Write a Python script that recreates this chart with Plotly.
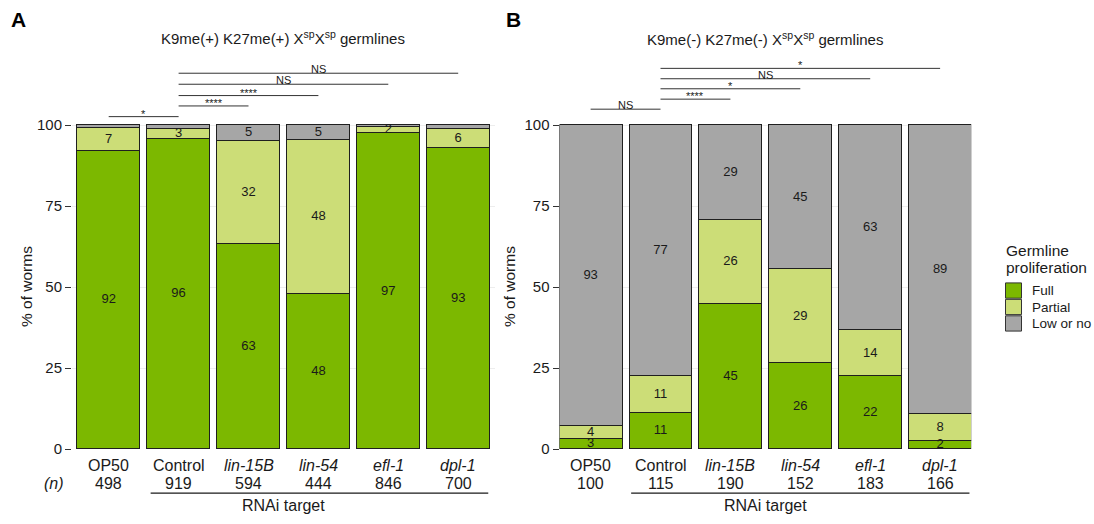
import plotly.graph_objects as go

# ---------------- data ----------------
categories = ["OP50", "Control", "lin-15B", "lin-54", "efl-1", "dpl-1"]
category_labels = ["OP50", "Control", "<i>lin-15B</i>", "<i>lin-54</i>", "<i>efl-1</i>", "<i>dpl-1</i>"]
n_A = [498, 919, 594, 444, 846, 700]
n_B = [100, 115, 190, 152, 183, 166]

# Panel A: K9me(+) K27me(+)
A_full = [92.0, 95.7, 63.2, 47.7, 97.4, 92.8]
A_partial = [7.2, 3.2, 31.8, 47.7, 2.0, 6.0]
A_low = [0.8, 1.1, 5.0, 4.6, 0.6, 1.2]

# Panel B: K9me(-) K27me(-)
B_full = [3.0, 11.2, 44.9, 26.4, 22.4, 2.4]
B_partial = [4.1, 11.4, 25.8, 29.0, 14.3, 8.3]
B_low = [92.9, 77.4, 29.3, 44.6, 63.3, 89.3]

# significance comparisons (from index, to index, label)
A_sig = [(0, 1, "*"), (1, 2, "****"), (1, 3, "****"), (1, 4, "NS"), (1, 5, "NS")]
B_sig = [(0, 1, "NS"), (1, 2, "****"), (1, 3, "*"), (1, 4, "NS"), (1, 5, "*")]
A_sig_levels = [102.6, 105.9, 109.1, 112.6, 116.0]
B_sig_levels = [104.9, 108.0, 111.2, 114.3, 117.5]

series_names = ["Full", "Partial", "Low or no"]
colors = ["#7CB800", "#CCDD77", "#A6A6A6"]
EDGE = "#1f1f1f"
FONT = "Liberation Sans, Arial, sans-serif"
TXT = "#1a1a1a"

W, H = 1094, 524
SP = 69.9  # px per category


def px(x):
    return x / W


def py(y):
    return 1 - y / H


idx = list(range(len(categories)))

fig = go.Figure()

panels = [
    ("x", "y", [A_full, A_partial, A_low]),
    ("x2", "y2", [B_full, B_partial, B_low]),
]

for p, (xa, ya, series) in enumerate(panels):
    for s, (name, col, vals) in enumerate(zip(series_names, colors, series)):
        fig.add_trace(go.Bar(
            x=idx, y=vals, name=name, width=0.9,
            marker=dict(color=col, line=dict(color=EDGE, width=1)),
            xaxis=xa, yaxis=ya, legendgroup=name, showlegend=False,
            hoverinfo="skip",
        ))
    # segment labels at midpoints
    tx, ty, tt = [], [], []
    for i in idx:
        base = 0.0
        for vals in series:
            v = vals[i]
            r = int(round(v))
            if r >= 2:
                tx.append(i)
                ty.append(base + v / 2)
                tt.append(str(r))
            base += v
    fig.add_trace(go.Scatter(
        x=tx, y=ty, text=tt, mode="text", textposition="middle center",
        textfont=dict(size=13, color=TXT, family=FONT),
        xaxis=xa, yaxis=ya, showlegend=False, hoverinfo="skip", cliponaxis=False,
    ))

shapes = []
annotations = []

# significance brackets
for xref, yref, sig, levels in [("x", "y", A_sig, A_sig_levels), ("x2", "y2", B_sig, B_sig_levels)]:
    for (a, b, lab), lev in zip(sig, levels):
        shapes.append(dict(type="line", xref=xref, yref=yref, x0=a, x1=b, y0=lev, y1=lev,
                           line=dict(color="#333333", width=1)))
        is_star = lab.startswith("*")
        annotations.append(dict(
            xref=xref, yref=yref, x=(a + b) / 2, y=lev, text=lab, showarrow=False,
            xanchor="center", yanchor="middle", yshift=(3 if is_star else 4),
            font=dict(size=11, color=TXT, family=FONT),
        ))

# axis category labels + n
for xref, ns, x_line0, x_line1 in [("x", n_A, 0.6, 5.43), ("x2", n_B, 0.58, 5.42)]:
    for i, (lab, n) in enumerate(zip(category_labels, ns)):
        annotations.append(dict(xref=xref, yref="paper", x=i, y=py(473), text=lab, showarrow=False,
                                xanchor="center", yanchor="middle",
                                font=dict(size=16, color=TXT, family=FONT)))
        annotations.append(dict(xref=xref, yref="paper", x=i, y=py(491), text=str(n), showarrow=False,
                                xanchor="center", yanchor="middle",
                                font=dict(size=16, color=TXT, family=FONT)))
    shapes.append(dict(type="line", xref=xref, yref="paper", x0=x_line0, x1=x_line1,
                       y0=py(500.7), y1=py(500.7), line=dict(color=TXT, width=1.3)))
    annotations.append(dict(xref=xref, yref="paper", x=2.5, y=py(513), text="RNAi target", showarrow=False,
                            xanchor="center", yanchor="middle",
                            font=dict(size=16, color=TXT, family=FONT)))

annotations.append(dict(xref="paper", yref="paper", x=px(54), y=py(491), text="<i>(n)</i>", showarrow=False,
                        xanchor="center", yanchor="middle", font=dict(size=16, color=TXT, family=FONT)))

# titles
annotations.append(dict(xref="x", yref="paper", x=2.5, y=py(38),
                        text="K9me(+) K27me(+) X<sup>sp</sup>X<sup>sp</sup> germlines", showarrow=False,
                        xanchor="center", yanchor="middle", font=dict(size=15, color=TXT, family=FONT)))
annotations.append(dict(xref="x2", yref="paper", x=2.5, y=py(39),
                        text="K9me(-) K27me(-) X<sup>sp</sup>X<sup>sp</sup> germlines", showarrow=False,
                        xanchor="center", yanchor="middle", font=dict(size=15, color=TXT, family=FONT)))
# panel letters
annotations.append(dict(xref="paper", yref="paper", x=px(18.5), y=py(20), text="<b>A</b>", showarrow=False,
                        xanchor="center", yanchor="middle", font=dict(size=21, color="#000", family=FONT)))
annotations.append(dict(xref="paper", yref="paper", x=px(513), y=py(20), text="<b>B</b>", showarrow=False,
                        xanchor="center", yanchor="middle", font=dict(size=21, color="#000", family=FONT)))
# y axis titles
for xp in (26, 509):
    annotations.append(dict(xref="paper", yref="paper", x=px(xp), y=py(291.5), text="% of worms",
                            textangle=-90, showarrow=False, xanchor="center", yanchor="middle",
                            font=dict(size=15.5, color=TXT, family=FONT)))

# legend (drawn manually to match key sizes)
annotations.append(dict(xref="paper", yref="paper", x=px(1004), y=py(254), text="Germline", showarrow=False,
                        xanchor="left", yanchor="middle", font=dict(size=15.5, color=TXT, family=FONT)))
annotations.append(dict(xref="paper", yref="paper", x=px(1004), y=py(271.5), text="proliferation",
                        showarrow=False, xanchor="left", yanchor="middle",
                        font=dict(size=15.5, color=TXT, family=FONT)))
for k, (name, col) in enumerate(zip(series_names, colors)):
    top = 287.3 + k * 16.7
    shapes.append(dict(type="rect", xref="paper", yref="paper", x0=px(1005.5), x1=px(1021.5),
                       y0=py(top + 15.5), y1=py(top), fillcolor=col,
                       line=dict(color="#333333", width=1)))
    annotations.append(dict(xref="paper", yref="paper", x=px(1029.5), y=py(top + 7.8), text=name,
                            showarrow=False, xanchor="left", yanchor="middle",
                            font=dict(size=13.5, color=TXT, family=FONT)))

yaxis_common = dict(
    range=[0, 125], tickvals=[0, 25, 50, 75, 100], ticks="outside", ticklen=6, tickcolor="#333",
    tickwidth=1, showgrid=True, gridcolor="#EDEDED", gridwidth=1, zeroline=False, showline=False,
    tickfont=dict(size=15, color=TXT, family=FONT), domain=[py(456), py(456 - 1.25 * 329)],
)
xaxis_common = dict(showticklabels=False, ticks="", showgrid=False, zeroline=False, showline=False)

fig.update_layout(
    width=W, height=H, margin=dict(l=0, r=0, t=0, b=0),
    paper_bgcolor="white", plot_bgcolor="white", barmode="stack", bargap=0,
    font=dict(family=FONT, color=TXT),
    xaxis=dict(xaxis_common, range=[-0.525, 5.525], domain=[px(72), px(72 + 6.05 * SP)]),
    xaxis2=dict(xaxis_common, range=[-0.445, 5.445], domain=[px(559.5), px(559.5 + 5.89 * SP)]),
    yaxis=dict(yaxis_common, anchor="x"),
    yaxis2=dict(yaxis_common, anchor="x2"),
    shapes=shapes, annotations=annotations,
    showlegend=False,
)

fig.write_html("out.html")
